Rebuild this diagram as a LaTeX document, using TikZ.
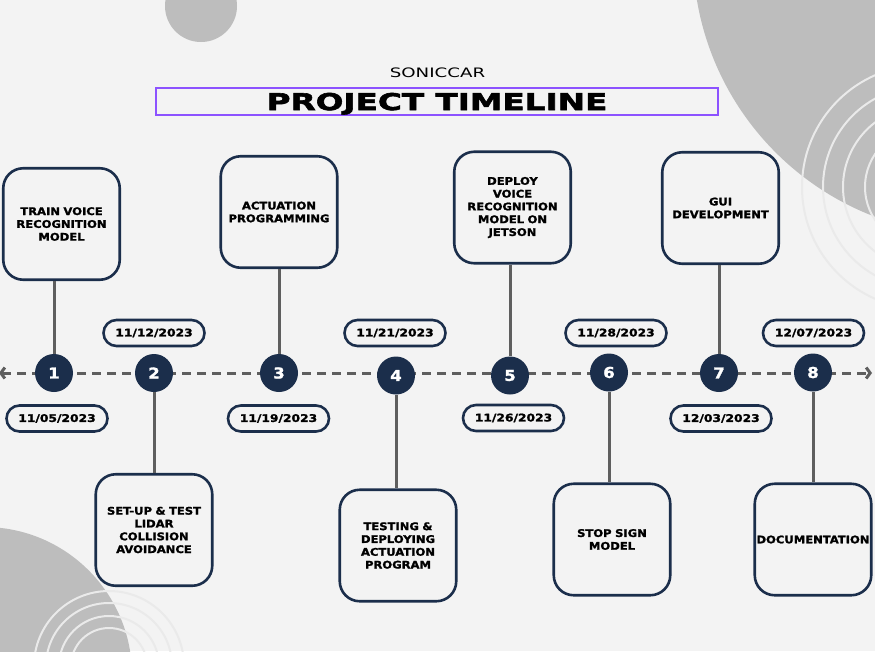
\documentclass[tikz,border=0pt]{standalone}
\usepackage{fontspec}
\usetikzlibrary{arrows.meta}
\setmainfont{DejaVu Sans}
\newfontfamily\boxfont[FakeStretch=1.1, FakeBold=1.6]{DejaVu Sans}
\newfontfamily\datefont[FakeStretch=1.17, FakeBold=1.6]{DejaVu Sans}
\newfontfamily\titlefont[FakeStretch=1.42, FakeBold=2.6]{DejaVu Sans}
\newfontfamily\subfont[FakeStretch=1.4]{DejaVu Sans}
\definecolor{navy}{HTML}{1B2E4B}
\definecolor{paper}{HTML}{F3F3F3}
\definecolor{blob}{HTML}{BDBDBD}
\definecolor{ring}{HTML}{EAEAEA}
\definecolor{stemgray}{HTML}{5E5E5E}
\definecolor{violet}{HTML}{8C52FF}

\begin{document}
\begin{tikzpicture}[x=1pt, y=-1pt,
    task/.style={draw=navy, fill=paper, line width=2.6pt, rounded corners=20pt, minimum width=116.5pt, minimum height=111.5pt, inner sep=1pt, text width=114pt, align=center, font=\boxfont\bfseries\fontsize{10.5}{12.8}\selectfont},
    datepill/.style={draw=navy, fill=paper, line width=2.6pt, rounded corners=13pt, minimum width=101pt, minimum height=26pt, inner sep=0pt, font=\datefont\bfseries\fontsize{10.5}{12}\selectfont},
    dot/.style={circle, fill=navy, minimum size=38pt, inner sep=0pt, text=white, font=\boxfont\bfseries\fontsize{15}{15}\selectfont},
    stem/.style={stemgray, line width=3pt},
    timeline/.style={stemgray, line width=3pt, dash pattern=on 9pt off 6pt, {Straight Barb[length=4pt, width=11pt]}-{Straight Barb[length=4pt, width=11pt]}}]
        \useasboundingbox (0, 0) rectangle (875, 651);
        \clip (0, 0) rectangle (875, 651);

        % backdrop
        \fill[paper] (0, 0) rectangle (875, 651);
        \fill[blob] (975, -47) circle (282pt);
        \fill[blob] (201, 6) circle (36pt);
        \fill[blob] (-16, 675) circle (148pt);
        \draw[ring, line width=2pt] (924, 187) circle (122pt) circle (101pt) circle (81pt) circle (59pt);
        \draw[ring, line width=2pt] (109, 666) circle (75pt) circle (63pt) circle (50pt) circle (38pt);

        % heading
        \node[font=\subfont\fontsize{13}{13}\selectfont] (brand) at (437.5, 72.5) {SONICCAR};
        \node[draw=violet, line width=1.8pt, minimum width=562pt, minimum height=27pt, text height=17pt, text depth=0pt, inner sep=0pt, font=\titlefont\bfseries\fontsize{23}{23}\selectfont] (title) at (437, 101.5) {PROJECT TIMELINE};

        % timeline
        \coordinate (tl-left) at (-1, 373);
        \coordinate (tl-right) at (872, 373);
        \draw[timeline] (tl-left) -- (tl-right);

        \node[dot] (c1) at (54, 373) {1};
        \node[dot] (c2) at (154, 373) {2};
        \node[dot] (c3) at (279, 373) {3};
        \node[dot] (c4) at (396, 375.5) {4};
        \node[dot] (c5) at (510, 375.5) {5};
        \node[dot] (c6) at (609, 372.5) {6};
        \node[dot] (c7) at (719, 373) {7};
        \node[dot] (c8) at (813, 372.5) {8};

        % tasks
        \node[task] (t1) at (61.5, 224) {TRAIN VOICE\\RECOGNITION\\MODEL};
        \node[task] (t2) at (154, 530) {SET-UP \& TEST\\LIDAR\\COLLISION\\AVOIDANCE};
        \node[task] (t3) at (279, 212) {ACTUATION\\PROGRAMMING};
        \node[task] (t4) at (398, 545.5) {TESTING \&\\DEPLOYING\\ACTUATION\\PROGRAM};
        \node[task] (t5) at (512.5, 207.5) {DEPLOY\\VOICE\\RECOGNITION\\MODEL ON\\JETSON};
        \node[task] (t6) at (612, 539.5) {STOP SIGN\\MODEL};
        \node[task] (t7) at (720.5, 208) {GUI\\DEVELOPMENT};
        \node[task] (t8) at (813, 539.5) {DOCUMENTATION};

        % dates
        \node[datepill] (d1) at (57, 418.5) {11/05/2023};
        \node[datepill] (d2) at (154, 333) {11/12/2023};
        \node[datepill] (d3) at (278.5, 418.5) {11/19/2023};
        \node[datepill] (d4) at (395, 333) {11/21/2023};
        \node[datepill] (d5) at (513.5, 418) {11/26/2023};
        \node[datepill] (d6) at (616, 333) {11/28/2023};
        \node[datepill] (d7) at (721, 418.5) {12/03/2023};
        \node[datepill] (d8) at (813.5, 333) {12/07/2023};

        % stems
        \draw[stem] (t1.south -| c1) -- (c1.north);
        \draw[stem] (c2.south) -- (t2.north -| c2);
        \draw[stem] (t3.south -| c3) -- (c3.north);
        \draw[stem] (c4.south) -- (t4.north -| c4);
        \draw[stem] (t5.south -| c5) -- (c5.north);
        \draw[stem] (c6.south) -- (t6.north -| c6);
        \draw[stem] (t7.south -| c7) -- (c7.north);
        \draw[stem] (c8.south) -- (t8.north -| c8);
    \end{tikzpicture}
\end{document}
